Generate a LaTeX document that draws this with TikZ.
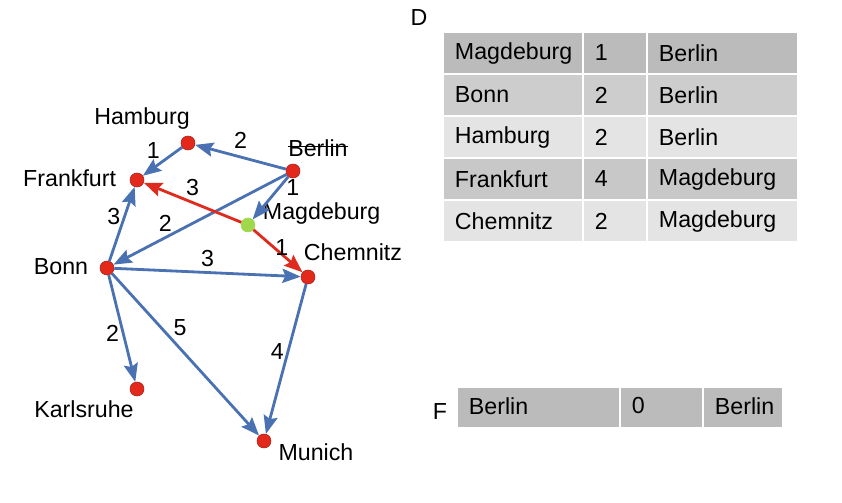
\documentclass[tikz,border=0pt]{standalone}
\usepackage{fontspec}
\setmainfont{Liberation Sans}
\usetikzlibrary{arrows.meta}

\definecolor{roadblue}{HTML}{4A72B2}
\definecolor{pathred}{HTML}{DF2A1E}
\definecolor{cityred}{HTML}{E3281C}
\definecolor{seengreen}{HTML}{9FD84B}
\definecolor{rowA}{HTML}{BBBBBB}
\definecolor{rowB}{HTML}{CDCDCD}
\definecolor{rowC}{HTML}{E4E4E4}
\definecolor{rowD}{HTML}{C8C8C8}

\tikzset{
	city/.style = {circle, fill=cityred, draw=cityred!75!black, line width=0.4pt, minimum size=0.35cm, inner sep=0pt},
	seen/.style = {city, fill=seengreen, draw=seengreen},
	road/.style = {draw=roadblue, line width=2pt, -{Stealth[length=13pt, width=10pt, inset=2pt]}},
	best/.style = {road, draw=pathred},
	dist/.style = {inner sep=1pt},
	cell/.style = {draw=white, line width=1.5pt},
}

\begin{document}
\begin{tikzpicture}[x=0.025cm, y=-0.025cm, every node/.style={font=\fontsize{16.5}{19}\selectfont}]
	\useasboundingbox (0,0) rectangle (842,502);

	% cities
	\node[city] (hamburg) at (188,143) {};
	\node[city] (berlin) at (293,171) {};
	\node[city] (frankfurt) at (137,180) {};
	\node[seen] (magdeburg) at (248,225) {};
	\node[city] (chemnitz) at (308,277) {};
	\node[city] (bonn) at (107,268) {};
	\node[city] (karlsruhe) at (137,389) {};
	\node[city] (munich) at (264,441) {};

	% city names
	\node (hamburgL) at (142,118) {Hamburg};
	\node[inner xsep=0pt] (berlinL) at (318,148) {Berlin};
	\draw[line width=0.8pt] ([yshift=1pt]berlinL.west) -- ([yshift=1pt]berlinL.east);
	\node[anchor=east] (frankfurtL) at (121,178) {Frankfurt};
	\node[anchor=west] (magdeburgL) at (258,213) {Magdeburg};
	\node[anchor=west] (chemnitzL) at (299,252) {Chemnitz};
	\node (bonnL) at (61,267) {Bonn};
	\node (karlsruheL) at (84,409) {Karlsruhe};
	\node (munichL) at (316,452) {Munich};

	% roads
	\draw[road] (berlin) -- (hamburg) node[dist, midway, above=4pt] {2};
	\draw[road] (hamburg) -- (frankfurt) node[dist, midway, above left] {1};
	\draw[road] (berlin) -- (magdeburg) node[dist, pos=.25, right=3pt] {1};
	\draw[road] (berlin) -- (bonn) node[dist, pos=.7, above=2pt] {2};
	\draw[road] (bonn) -- (frankfurt) node[dist, pos=.6, left=1pt] {3};
	\draw[road] (bonn) -- (chemnitz) node[dist, midway, above=2pt] {3};
	\draw[road] (bonn) -- (karlsruhe) node[dist, pos=.55, left=1pt] {2};
	\draw[road] (bonn) -- (munich) node[dist, pos=.4, above right] {5};
	\draw[road] (chemnitz) -- (munich) node[dist, pos=.45, left=1pt] {4};
	\draw[best] (magdeburg) -- (frankfurt) node[dist, midway, above=3pt] {3};
	\draw[best] (magdeburg) -- (chemnitz) node[dist, pos=.42, right=-1pt] {1};

	% table D
	\node (labelD) at (419,18) {D};
	\foreach \town/\cost/\from/\shade [count=\i] in {Magdeburg/1/Berlin/rowA, Bonn/2/Berlin/rowB, Hamburg/2/Berlin/rowC, Frankfurt/4/Magdeburg/rowD, Chemnitz/2/Magdeburg/rowC}{
		\pgfmathsetmacro{\top}{32+42*(\i-1)}
		\filldraw[cell, fill=\shade] (443,\top) rectangle (583,\top+42);
		\filldraw[cell, fill=\shade] (583,\top) rectangle (647,\top+42);
		\filldraw[cell, fill=\shade] (647,\top) rectangle (798,\top+42);
		\node[anchor=west] (townD\i) at (450,\top+21) {\town};
		\node[anchor=west] (costD\i) at (590,\top+21) {\cost};
		\node[anchor=west] (fromD\i) at (654,\top+21) {\from};
	}

	% table F
	\node (labelF) at (440,412) {F};
	\filldraw[cell, fill=rowA] (457,387) rectangle (620,428);
	\filldraw[cell, fill=rowA] (620,387) rectangle (703,428);
	\filldraw[cell, fill=rowA] (703,387) rectangle (783,428);
	\node[anchor=west] (townF) at (464,406) {Berlin};
	\node[anchor=west] (costF) at (627,406) {0};
	\node[anchor=west] (fromF) at (710,406) {Berlin};
\end{tikzpicture}
\end{document}
